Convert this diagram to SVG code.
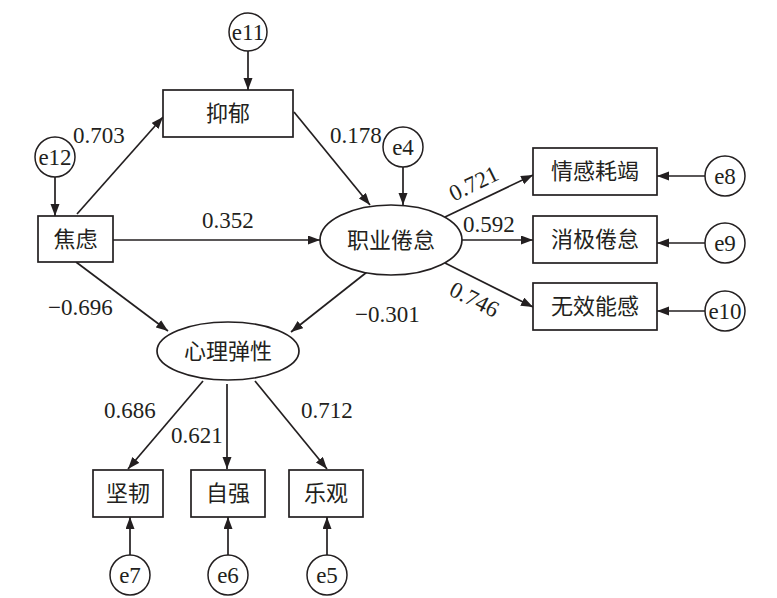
<svg xmlns="http://www.w3.org/2000/svg" width="777" height="598" viewBox="0 0 777 598">
<defs>
<marker id="ah" markerUnits="userSpaceOnUse" markerWidth="13" markerHeight="10" refX="12" refY="4.5" orient="auto">
<path d="M0,0 L12,4.5 L0,9 z" fill="#231f20"/>
</marker>
<style>
.box{fill:#fff;stroke:#231f20;stroke-width:1.7}
.ell{fill:#fff;stroke:#231f20;stroke-width:1.7}
.err{fill:#fff;stroke:#231f20;stroke-width:1.5}
.cn{font-family:"Noto Sans CJK SC","Noto Sans CJK TC",sans-serif;font-size:22px;fill:#231f20;text-anchor:middle}
.num{font-family:"Liberation Serif",serif;font-size:23px;fill:#231f20}
.et{font-family:"Liberation Serif",serif;font-size:23px;fill:#231f20;text-anchor:middle}
.ln{stroke:#231f20;stroke-width:1.7;fill:none;marker-end:url(#ah)}
</style>
</defs>
<rect width="777" height="598" fill="#fff"/>
<g id="connectors">
<line class="ln" x1="248" y1="51" x2="248" y2="90"/>
<line class="ln" x1="55" y1="177" x2="55" y2="216"/>
<line class="ln" x1="77" y1="214" x2="163" y2="117"/>
<line class="ln" x1="113" y1="240" x2="320" y2="240"/>
<line class="ln" x1="294" y1="112" x2="370" y2="205"/>
<line class="ln" x1="403" y1="167" x2="403" y2="205"/>
<line class="ln" x1="445" y1="217" x2="533" y2="175"/>
<line class="ln" x1="462" y1="240" x2="533" y2="240"/>
<line class="ln" x1="445" y1="263" x2="533" y2="307"/>
<line class="ln" x1="705" y1="176" x2="657" y2="176"/>
<line class="ln" x1="705" y1="243" x2="657" y2="243"/>
<line class="ln" x1="705" y1="311" x2="657" y2="311"/>
<line class="ln" x1="76" y1="262" x2="168" y2="331"/>
<line class="ln" x1="367" y1="272" x2="291" y2="332"/>
<line class="ln" x1="203" y1="381" x2="128" y2="469"/>
<line class="ln" x1="227" y1="384" x2="227" y2="469"/>
<line class="ln" x1="255" y1="381" x2="327" y2="469"/>
<line class="ln" x1="130" y1="555" x2="130" y2="517"/>
<line class="ln" x1="228" y1="555" x2="228" y2="517"/>
<line class="ln" x1="327" y1="555" x2="327" y2="517"/>
<text class="num" x="73" y="143">0.703</text>
<text class="num" x="202" y="228">0.352</text>
<text class="num" x="330" y="143">0.178</text>
<text class="num" transform="translate(474,184) rotate(-26)" text-anchor="middle" y="7">0.721</text>
<text class="num" x="463" y="232">0.592</text>
<text class="num" transform="translate(474,300) rotate(27)" text-anchor="middle" y="7">0.746</text>
<text class="num" x="48" y="315">−0.696</text>
<text class="num" x="355" y="322">−0.301</text>
<text class="num" x="104" y="418">0.686</text>
<text class="num" x="171" y="443">0.621</text>
<text class="num" x="301" y="418">0.712</text>
</g>
<g id="e11"><circle class="err" cx="248" cy="32" r="19"/><text class="et" x="248" y="40">e11</text></g>
<g id="e12"><circle class="err" cx="55" cy="157" r="20"/><text class="et" x="55" y="165">e12</text></g>
<g id="e4"><circle class="err" cx="403" cy="147" r="20"/><text class="et" x="403" y="155">e4</text></g>
<g id="e8"><circle class="err" cx="725" cy="176" r="20"/><text class="et" x="725" y="184">e8</text></g>
<g id="e9"><circle class="err" cx="725" cy="243" r="20"/><text class="et" x="725" y="251">e9</text></g>
<g id="e10"><circle class="err" cx="725" cy="311" r="20"/><text class="et" x="725" y="319">e10</text></g>
<g id="e7"><circle class="err" cx="130" cy="575" r="20"/><text class="et" x="130" y="583">e7</text></g>
<g id="e6"><circle class="err" cx="228" cy="575" r="20"/><text class="et" x="228" y="583">e6</text></g>
<g id="e5"><circle class="err" cx="327" cy="575" r="20"/><text class="et" x="327" y="583">e5</text></g>
<g id="yiyu"><rect class="box" x="163" y="90" width="130" height="47"/><text class="cn" x="228" y="121">抑郁</text></g>
<g id="jiaolv"><rect class="box" x="38" y="216" width="75" height="46"/><text class="cn" x="75.5" y="247">焦虑</text></g>
<g id="zhiyejuandai"><ellipse class="ell" cx="391" cy="240" rx="71" ry="35"/><text class="cn" x="391" y="248">职业倦怠</text></g>
<g id="qinggan"><rect class="box" x="533" y="148" width="124" height="47"/><text class="cn" x="595" y="179">情感耗竭</text></g>
<g id="xiaoji"><rect class="box" x="533" y="216" width="124" height="47"/><text class="cn" x="595" y="247">消极倦怠</text></g>
<g id="wuxiao"><rect class="box" x="533" y="283" width="124" height="47"/><text class="cn" x="595" y="314">无效能感</text></g>
<g id="xinli"><ellipse class="ell" cx="228" cy="351" rx="71" ry="29"/><text class="cn" x="228" y="359">心理弹性</text></g>
<g id="jianren"><rect class="box" x="93" y="470" width="70" height="47"/><text class="cn" x="128" y="501">坚韧</text></g>
<g id="ziqiang"><rect class="box" x="191" y="470" width="74" height="47"/><text class="cn" x="228" y="501">自强</text></g>
<g id="leguan"><rect class="box" x="289" y="470" width="74" height="47"/><text class="cn" x="326" y="501">乐观</text></g>
</svg>
